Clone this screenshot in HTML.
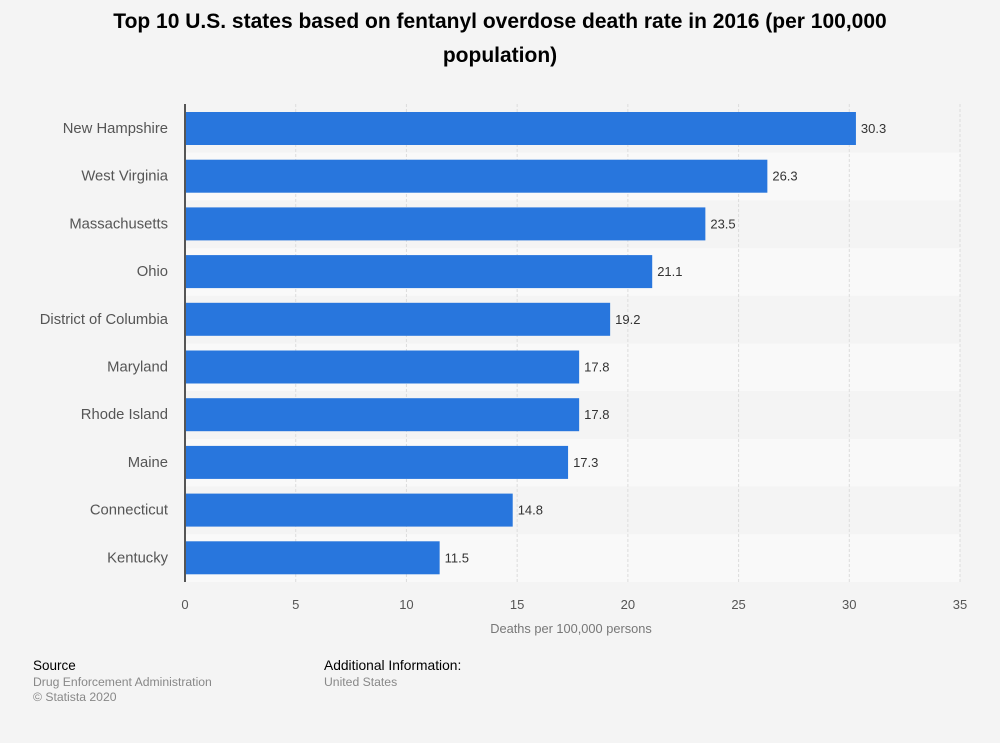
<!DOCTYPE html>
<html><head><meta charset="utf-8"><style>
body{margin:0;width:1000px;height:743px;background:#f4f4f4;font-family:"Liberation Sans",sans-serif;overflow:hidden}
</style></head><body>
<svg width="1000" height="743" style="position:absolute;left:0;top:0">
<text x="500" y="28" text-anchor="middle" font-size="21" font-weight="bold" fill="#000">Top 10 U.S. states based on fentanyl overdose death rate in 2016 (per 100,000</text>
<text x="500" y="62" text-anchor="middle" font-size="21" font-weight="bold" fill="#000">population)</text>
<g id="bands"></g><g id="grid"></g><g id="bars"></g><g id="labels"></g>
<line x1="185" y1="104" x2="185" y2="582" stroke="#555" stroke-width="2"/>
<text x="571" y="633" text-anchor="middle" font-size="12.8" fill="#777">Deaths per 100,000 persons</text>
<text x="33" y="670" font-size="13.5" fill="#000">Source</text>
<text x="33" y="686" font-size="12.2" fill="#888">Drug Enforcement Administration</text>
<text x="33" y="701" font-size="12.2" fill="#888">© Statista 2020</text>
<text x="324" y="670" font-size="13.8" fill="#000">Additional Information:</text>
<text x="324" y="686" font-size="12.2" fill="#888">United States</text>
</svg>
<script>
const categories=["New Hampshire","West Virginia","Massachusetts","Ohio","District of Columbia","Maryland","Rhode Island","Maine","Connecticut","Kentucky"];
const values=[30.3,26.3,23.5,21.1,19.2,17.8,17.8,17.3,14.8,11.5];
const valueLabels=["30.3","26.3","23.5","21.1","19.2","17.8","17.8","17.3","14.8","11.5"];
const ticks=[0,5,10,15,20,25,30,35];
const NS="http://www.w3.org/2000/svg";
const x0=185,x1=960,xMax=35,top0=105,rowH=47.7;
const xs=v=>x0+v/xMax*(x1-x0);
const ys=i=>top0+i*rowH;
function mk(t,a,p){const e=document.createElementNS(NS,t);for(const k in a)e.setAttribute(k,a[k]);p.appendChild(e);return e;}
const bands=document.getElementById('bands'),grid=document.getElementById('grid'),bars=document.getElementById('bars'),labels=document.getElementById('labels');
categories.forEach((c,i)=>{
  const b=mk('rect',{x:x0,y:ys(i),width:x1-x0,height:rowH,fill:i%2?'#f9f9f9':'#f4f4f4'},bands);
  
  
});
ticks.forEach(t=>{
  if(t>0){const g=mk('line',{x1:xs(t),x2:xs(t),y1:104,y2:582,stroke:'#ddd','stroke-dasharray':'3,2'},grid);
  
  }
  const tx=mk('text',{x:xs(t),y:609,'text-anchor':'middle','font-size':13,fill:'#555'},labels);
  tx.textContent=t;
  
  
});
categories.forEach((c,i)=>{
  const y=ys(i)+7;
  const r=mk('rect',{x:x0,y:y,width:xs(values[i])-x0,height:33,fill:'#2876dd'},bars);
  
  
  const l=mk('text',{x:168,y:y+21,'text-anchor':'end','font-size':14.8,fill:'#555'},labels);
  l.textContent=c;
  
  
  const v=mk('text',{x:xs(values[i])+5,y:y+21,'font-size':13,fill:'#333'},labels);
  v.textContent=valueLabels[i];
  
  
});
</script>
</body></html>
